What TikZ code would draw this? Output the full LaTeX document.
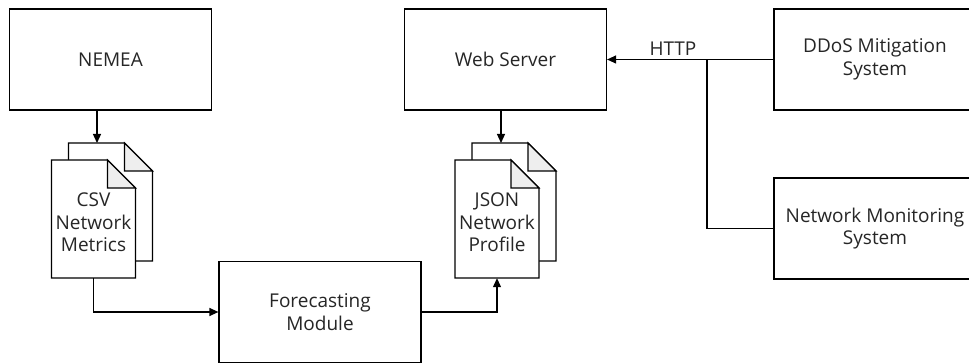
\documentclass[tikz,border=0pt]{standalone}
\usepackage{fontspec}
\setmainfont{Open Sans}
\usetikzlibrary{arrows.meta}
\definecolor{ink}{HTML}{262626}
\definecolor{foldgrey}{HTML}{EEEEEE}
\tikzset{
  every node/.style={font=\fontsize{19}{22.5}\selectfont, text=ink},
  box/.style={draw=black, line width=1.2pt, fill=white, minimum width=202pt, minimum height=101pt, align=center, inner sep=0pt},
  docline/.style={draw=black, line width=1.2pt, fill=white, line join=miter},
  foldline/.style={draw=black, line width=1.2pt, fill=foldgrey},
  doctext/.style={minimum width=84pt, minimum height=118pt, align=center, inner sep=0pt},
  link/.style={draw=black, line width=1.2pt},
  arrow/.style={link, -{Triangle[length=9pt, width=8pt]}},
}
% A stack of two documents centred on the front sheet
\newcommand\docpile[4]{%
  \begin{scope}[shift={(#2,#3)}]
    \path[docline] (-25,-76) -- (31,-76) -- (59,-48) -- (59,42) -- (-25,42) -- cycle;
    \path[foldline] (31,-76) -- (31,-48) -- (59,-48) -- cycle;
    \path[docline] (-42,-59) -- (14,-59) -- (42,-31) -- (42,59) -- (-42,59) -- cycle;
    \path[foldline] (14,-59) -- (14,-31) -- (42,-31) -- cycle;
    \node[doctext] (#1) at (0,0) {};
    \node[align=center, inner sep=0pt] at (0,3.5) {#4};
  \end{scope}}
\begin{document}
\begin{tikzpicture}[x=1pt, y=-1pt]
  \useasboundingbox (0,0) rectangle (969,363);
  \clip (0,0) rectangle (969,363);

  % processing blocks
  \node[box] (nemea) at (110.5,59.5) {NEMEA};
  \node[box] (web) at (505.5,59.5) {Web Server};
  \node[box] (forecast) at (320,312) {Forecasting\\Module};
  \node[box] (ddos) at (875,59.5) {DDoS Mitigation\\System};
  \node[box] (nms) at (875,228.5) {Network Monitoring\\System};

  % data files
  \docpile{csv}{93.5}{219}{CSV\\Network\\Metrics}
  \docpile{json}{497}{219}{JSON\\Network\\Profile}

  % attachment points
  \coordinate (csvin) at (97,143);
  \coordinate (jsonin) at (501,143);
  \coordinate (hub) at (707,59.5);

  % data flow
  \draw[arrow] (nemea.south -| csvin) -- (csvin);
  \draw[arrow] (web.south -| jsonin) -- (jsonin);
  \draw[arrow] (csv.south) |- (forecast.west);
  \draw[arrow] (forecast.east) -| (json.south);
  \draw[arrow] (ddos.west) -- (web.east);
  \draw[link] (nms.west) -| (hub);
  \node[anchor=south, inner sep=0pt] (http) at (673,56) {HTTP};
\end{tikzpicture}
\end{document}
